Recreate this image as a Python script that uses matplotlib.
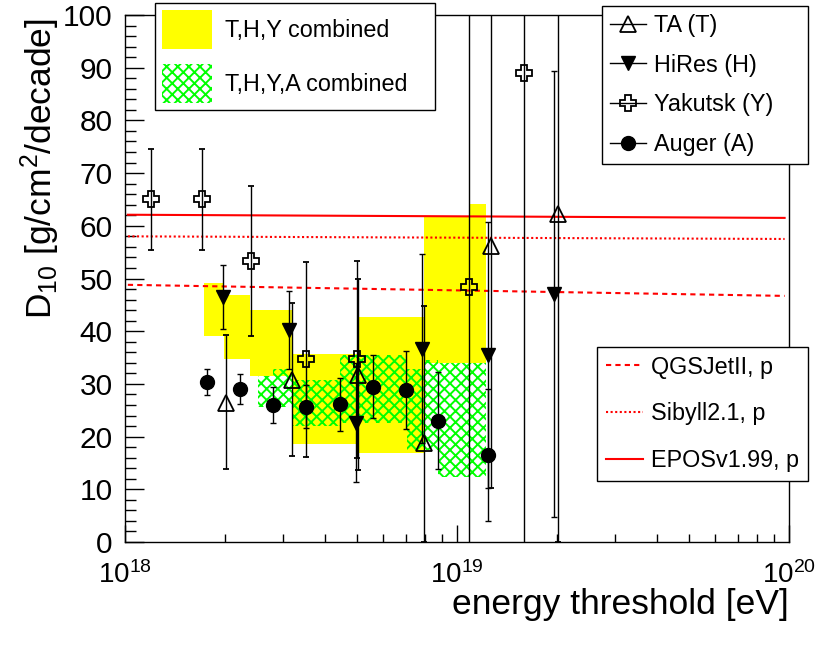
"""D10 vs energy threshold — TA / HiRes / Yakutsk / Auger + model lines"""
import numpy as np
import matplotlib
matplotlib.use("Agg")
import matplotlib.pyplot as plt
from matplotlib.lines import Line2D
from matplotlib.patches import Patch
from matplotlib.ticker import LogLocator, NullFormatter, MultipleLocator

plt.rcParams["font.family"] = ["Liberation Sans", "DejaVu Sans"]
plt.rcParams["mathtext.fontset"] = "custom"
plt.rcParams["mathtext.rm"] = "Liberation Sans"
plt.rcParams["mathtext.it"] = "Liberation Sans:italic"
plt.rcParams["mathtext.bf"] = "Liberation Sans:bold"
plt.rcParams["hatch.linewidth"] = 1.4

# ── data ──
ta_e  = [2.01e18, 3.18e18, 5.03e18, 7.95e18, 1.27e19, 2.01e19]
ta_d  = [26.3, 30.7, 31.7, 18.7, 56.2, 62.2]
ta_lo = [12.5, 14.4, 18.0, 18.7, 46.0, 62.2]
ta_hi = [13.0, 14.6, 18.2, 26.1, 46.0, 70.0]

hires_e   = [1.97e18, 3.12e18, 4.95e18, 7.83e18, 1.24e19, 1.96e19]
hires_d   = [46.5, 40.3, 22.6, 36.7, 35.5, 47.0]
hires_err = [6.0, 7.4, 11.3, 17.9, 25.3, 42.3]

yak_e   = [1.2e18, 1.7e18, 2.4e18, 3.5e18, 5.0e18, 1.09e19, 1.59e19]
yak_d   = [65.0, 65.0, 53.3, 34.7, 34.7, 48.4, 89.0]
yak_err = [9.5, 9.5, 14.3, 18.5, 18.7, 60.0, 95.0]

auger_e   = [1.76e18, 2.22e18, 2.79e18, 3.5e18, 4.45e18, 5.6e18, 7.03e18, 8.79e18, 1.236e19]
auger_d   = [30.3, 29.0, 26.0, 25.7, 26.1, 29.5, 28.8, 23.0, 16.5]
auger_err = [2.5, 2.9, 3.4, 4.0, 5.0, 6.0, 7.4, 9.2, 12.6]

# combined bands (bin edges, low, high)
thy_edges = [1.73e18, 1.99e18, 2.38e18, 3.18e18, 5.0e18, 7.95e18, 1.09e19, 1.22e19]
thy_lo    = [39.0, 34.7, 31.5, 18.6, 16.9, 34.0, 34.0]
thy_hi    = [49.1, 46.9, 44.0, 35.7, 42.6, 61.7, 64.1]

thya_edges = [2.51e18, 2.8e18, 3.18e18, 4.45e18, 7.05e18, 7.95e18, 8.79e18, 1.22e19]
thya_lo    = [25.7, 25.7, 22.0, 22.5, 17.5, 17.5, 12.4]
thya_hi    = [31.5, 32.8, 30.7, 35.5, 32.8, 34.5, 34.0]

# model predictions (proton)
model_e = [1.02e18, 9.7e19]
qgs_d   = [48.8, 46.7]
sib_d   = [58.0, 57.5]
epos_d  = [62.1, 61.5]

# ── figure ──
fig = plt.figure(figsize=(8.3, 6.58), dpi=100)
ax = fig.add_axes([125/830, 1-542/658, 664/830, 527/658])
ax.set_xscale("log")
ax.set_xlim(1e18, 1e20)
ax.set_ylim(0, 100)

YEL, GRN, RED = "#ffff00", "#00ff00", "#ff0000"

ax.bar(thy_edges[:-1], np.array(thy_hi) - np.array(thy_lo), width=np.diff(thy_edges),
       bottom=thy_lo, align="edge", color=YEL, linewidth=0, zorder=1)
ax.bar(thya_edges[:-1], np.array(thya_hi) - np.array(thya_lo), width=np.diff(thya_edges),
       bottom=thya_lo, align="edge", facecolor="none", edgecolor=GRN, hatch="xxx",
       linewidth=0, zorder=2)

ax.plot(model_e, qgs_d, color=RED, lw=1.5, ls=(0, (2.5, 2)), zorder=3)
ax.plot(model_e, sib_d, color=RED, lw=1.5, ls=(0, (1, 1.2)), zorder=3)
ax.plot(model_e, epos_d, color=RED, lw=1.5, ls="-", zorder=3)

eb = dict(ecolor="k", elinewidth=1.0, capsize=2.5, capthick=1.0, mec="k", zorder=5)
ax.errorbar(yak_e, yak_d, yerr=yak_err, fmt="P", ms=12, mfc="none", mew=1.3, **eb)
ax.errorbar(ta_e, ta_d, yerr=[ta_lo, ta_hi], fmt="^", ms=11, mfc="none", mew=1.3, **eb)
ax.errorbar(hires_e, hires_d, yerr=hires_err, fmt="v", ms=10, mfc="k", mew=1, **eb)
ax.errorbar(auger_e, auger_d, yerr=auger_err, fmt="o", ms=10, mfc="k", mew=1, **eb)

# axes style
ax.xaxis.set_major_locator(LogLocator(base=10, numticks=5))
ax.xaxis.set_minor_locator(LogLocator(base=10, subs=np.arange(2, 10), numticks=20))
ax.xaxis.set_minor_formatter(NullFormatter())
ax.yaxis.set_major_locator(MultipleLocator(10))
ax.yaxis.set_minor_locator(MultipleLocator(2))
ax.tick_params(axis="both", which="both", direction="in", top=False, right=False, width=1)
ax.tick_params(axis="y", which="major", length=14, pad=9, labelsize=21.5)
ax.tick_params(axis="y", which="minor", length=8)
ax.tick_params(axis="x", which="major", length=12, pad=14, labelsize=20)
ax.tick_params(axis="x", which="minor", length=6)
for s in ax.spines.values():
    s.set_linewidth(1.0)

ax.set_xlabel("energy threshold [eV]", fontsize=25.5, ha="right", va="center")
ax.xaxis.set_label_coords(1.0, -0.118)
ax.set_ylabel(r"D$_{10}$ [g/cm$^{2}$/decade]", fontsize=25.5, ha="right", va="center")
ax.yaxis.set_label_coords(-0.127, 0.995)

# ── legends ──
common = dict(loc="upper left", mode="expand", borderaxespad=0, fontsize=16.8,
              fancybox=False, edgecolor="k", framealpha=1, shadow=False)

h1 = [Patch(facecolor=YEL, edgecolor="none"),
      Patch(facecolor="none", edgecolor=GRN, hatch="xxx", linewidth=0)]
leg1 = fig.legend(h1, ["T,H,Y combined", "T,H,Y,A combined"],
                  bbox_to_anchor=(155/830, 1-3/658, 280/830, 0),
                  handlelength=2.15, handleheight=2.2, labelspacing=0.65,
                  borderpad=0.3, handletextpad=0.55, **common)

h2 = [Line2D([], [], color="k", lw=1, marker="^", ms=11, mfc="none", mec="k", mew=1.3),
      Line2D([], [], color="k", lw=1, marker="v", ms=10, mfc="k", mec="k"),
      Line2D([], [], color="k", lw=1, marker="P", ms=12, mfc="none", mec="k", mew=1.3),
      Line2D([], [], color="k", lw=1, marker="o", ms=10, mfc="k", mec="k")]
leg2 = fig.legend(h2, ["TA (T)", "HiRes (H)", "Yakutsk (Y)", "Auger (A)"],
                  bbox_to_anchor=(601.7/830, 1-5.7/658, 206/830, 0), numpoints=1,
                  handlelength=1.55, labelspacing=0.72, borderpad=0.35,
                  handletextpad=0.33, **common)

h3 = [Line2D([], [], color=RED, lw=1.5, ls=(0, (2.5, 2))),
      Line2D([], [], color=RED, lw=1.5, ls=(0, (1, 1.2))),
      Line2D([], [], color=RED, lw=1.5, ls="-")]
leg3 = fig.legend(h3, ["QGSJetII, p", "Sibyll2.1, p", "EPOSv1.99, p"],
                  bbox_to_anchor=(597.3/830, 1-346.7/658, 210.4/830, 0),
                  handlelength=1.57, labelspacing=1.02, borderpad=0.38,
                  handletextpad=0.33, **common)
for lg in (leg1, leg2, leg3):
    lg.get_frame().set_linewidth(1.0)

fig.savefig("out.png", dpi=100)
